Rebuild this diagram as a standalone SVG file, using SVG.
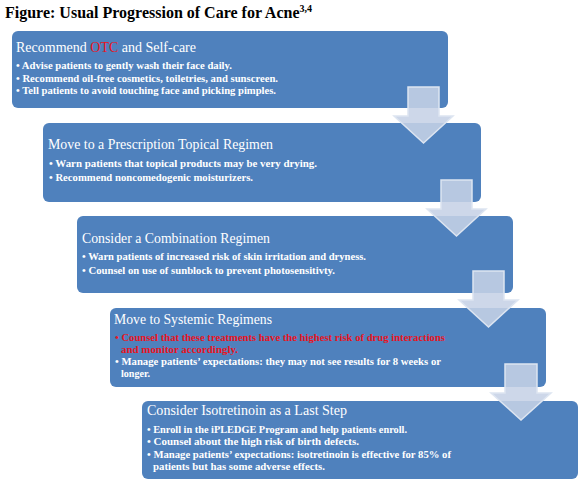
<svg xmlns="http://www.w3.org/2000/svg" width="588" height="502" viewBox="0 0 588 502">
<style>
.box{fill:#4f81bd;}
.arrow{fill:#c6d2e6;fill-opacity:0.88;stroke:#dde5f1;stroke-width:1.5;}
.title{font-family:"Liberation Serif",serif;font-weight:bold;font-size:16px;fill:#000;}
.head{font-family:"Liberation Serif",serif;font-size:14px;fill:#fff;}
.bul{font-family:"Liberation Serif",serif;font-weight:bold;font-size:10px;fill:#fff;}
.red{fill:#e8141e;}
</style>
<rect width="588" height="502" fill="#fff"/>
<text class="title" x="5" y="18">Figure: Usual Progression of Care for Acne<tspan font-size="10" dy="-6">3,4</tspan></text>
<g id="node1">
<rect class="box" x="12" y="31" width="436" height="77" rx="6"/>
<text class="head" x="16" y="52">Recommend <tspan class="red">OTC</tspan> and Self-care</text>
<text class="bul" x="16" y="69" textLength="216" lengthAdjust="spacingAndGlyphs">• Advise patients to gently wash their face daily.</text>
<text class="bul" x="16" y="82" textLength="262" lengthAdjust="spacingAndGlyphs">• Recommend oil-free cosmetics, toiletries, and sunscreen.</text>
<text class="bul" x="16" y="94" textLength="260" lengthAdjust="spacingAndGlyphs">• Tell patients to avoid touching face and picking pimples.</text>
</g>
<g id="node2">
<rect class="box" x="43" y="123" width="438" height="79" rx="6"/>
<text class="head" x="48" y="149" textLength="225" lengthAdjust="spacingAndGlyphs">Move to a Prescription Topical Regimen</text>
<text class="bul" x="49" y="167" textLength="268" lengthAdjust="spacingAndGlyphs">• Warn patients that topical products may be very drying.</text>
<text class="bul" x="49" y="181" textLength="204" lengthAdjust="spacingAndGlyphs">• Recommend noncomedogenic moisturizers.</text>
</g>
<g id="node3">
<rect class="box" x="77" y="216" width="436" height="77" rx="6"/>
<text class="head" x="82" y="243" textLength="188" lengthAdjust="spacingAndGlyphs">Consider a Combination Regimen</text>
<text class="bul" x="82" y="260" textLength="284" lengthAdjust="spacingAndGlyphs">• Warn patients of increased risk of skin irritation and dryness.</text>
<text class="bul" x="82" y="274" textLength="253" lengthAdjust="spacingAndGlyphs">• Counsel on use of sunblock to prevent photosensitivty.</text>
</g>
<g id="node4">
<rect class="box" x="110" y="308" width="436" height="79" rx="6"/>
<text class="head" x="114" y="324" textLength="158" lengthAdjust="spacingAndGlyphs">Move to Systemic Regimens</text>
<text class="bul red" x="115" y="341" textLength="330" lengthAdjust="spacingAndGlyphs">• Counsel that these treatments have the highest risk of drug interactions</text>
<text class="bul red" x="121" y="353" textLength="117" lengthAdjust="spacingAndGlyphs">and monitor accordingly.</text>
<text class="bul" x="115" y="365" textLength="326" lengthAdjust="spacingAndGlyphs">• Manage patients’ expectations: they may not see results for 8 weeks or</text>
<text class="bul" x="121" y="377" textLength="29" lengthAdjust="spacingAndGlyphs">longer.</text>
</g>
<g id="node5">
<rect class="box" x="142" y="401" width="436" height="78" rx="6"/>
<text class="head" x="147" y="415" textLength="200" lengthAdjust="spacingAndGlyphs">Consider Isotretinoin as a Last Step</text>
<text class="bul" x="147" y="433" textLength="260" lengthAdjust="spacingAndGlyphs">• Enroll in the iPLEDGE Program and help patients enroll.</text>
<text class="bul" x="147" y="445" textLength="212" lengthAdjust="spacingAndGlyphs">• Counsel about the high risk of birth defects.</text>
<text class="bul" x="147" y="458" textLength="304" lengthAdjust="spacingAndGlyphs">• Manage patients’ expectations: isotretinoin is effective for 85% of</text>
<text class="bul" x="153" y="470" textLength="172" lengthAdjust="spacingAndGlyphs">patients but has some adverse effects.</text>
</g>
<g id="connectors">
<polygon class="arrow" points="408,87 439,87 439,116 453,116 423.5,143 394,116 408,116"/>
<polygon class="arrow" points="441,180 472,180 472,209 486,209 456.5,236 427,209 441,209"/>
<polygon class="arrow" points="473,271 504,271 504,300 518,300 488.5,327 459,300 473,300"/>
<polygon class="arrow" points="505,364 537,364 537,393 551,393 521,420 491,393 505,393"/>
</g>
</svg>
